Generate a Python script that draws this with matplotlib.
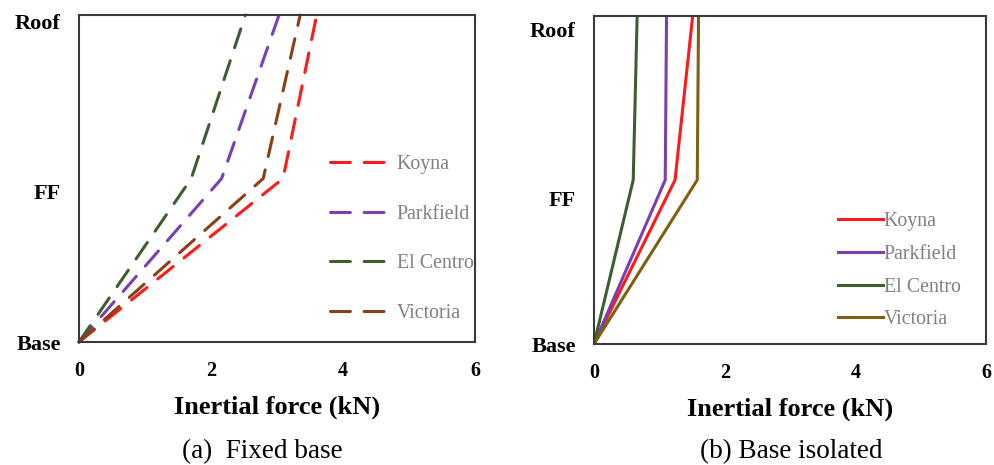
import matplotlib
matplotlib.use("Agg")
import matplotlib.pyplot as plt

# storey levels: Base, First floor, Roof
levels = [0, 1, 2]
level_labels = ["Base", "FF", "Roof"]
records = ["Koyna", "Parkfield", "El Centro", "Victoria"]

# inertial force (kN) at Base / FF / Roof
fixed_force = {
    "Koyna": [0, 3.09, 3.60],
    "Parkfield": [0, 2.16, 3.03],
    "El Centro": [0, 1.70, 2.52],
    "Victoria": [0, 2.79, 3.35],
}
isolated_force = {
    "Koyna": [0, 1.24, 1.51],
    "Parkfield": [0, 1.09, 1.11],
    "El Centro": [0, 0.60, 0.66],
    "Victoria": [0, 1.58, 1.60],
}

fixed_colors = ["#ff1a1a", "#7a3fb0", "#3d5e2e", "#8b3f14"]
isolated_colors = ["#ff1a1a", "#7a3fb0", "#3d5e2e", "#7f6010"]

plt.rcParams["font.family"] = ["Liberation Serif", "DejaVu Serif"]

fig = plt.figure(figsize=(9.94, 4.65), dpi=100)
ax1 = fig.add_axes([0.0795, 0.2645, 0.3985, 0.7032])
ax2 = fig.add_axes([0.5976, 0.2602, 0.3944, 0.7054])


def style_axes(ax, ytick_pos):
    ax.set_xlim(0, 6)
    ax.set_ylim(0, 2.0)
    ax.set_xticks([0, 2, 4, 6])
    ax.set_yticks(ytick_pos)
    ax.set_yticklabels(level_labels)
    ax.tick_params(axis="x", length=0, labelsize=14.5, pad=14)
    ax.tick_params(axis="y", length=0, labelsize=16, pad=13)
    for lab in ax.get_xticklabels() + ax.get_yticklabels():
        lab.set_fontweight("bold")
    for sp in ax.spines.values():
        sp.set_color("#3a3a3a")
        sp.set_linewidth(1.5)
    ax.set_xlabel("Inertial force (kN)", fontsize=19, fontweight="bold", labelpad=10)


for name, c in zip(records, fixed_colors):
    ax1.plot(fixed_force[name], levels, color=c, lw=2.2, label=name,
             dashes=(6.5, 4.5), solid_capstyle="round", dash_capstyle="round", clip_on=False)
style_axes(ax1, [0, 0.92, 1.96])
leg1 = ax1.legend(loc="upper left", bbox_to_anchor=(0.614, 0.595), frameon=False,
                  fontsize=14.3, handlelength=3.25, handletextpad=0.1, labelspacing=1.53,
                  borderaxespad=0)
for t in leg1.get_texts():
    t.set_color("#808080")

for name, c in zip(records, isolated_colors):
    ax2.plot(isolated_force[name], levels, color=c, lw=2.2, label=name)
style_axes(ax2, [0, 0.89, 1.92])
leg2 = ax2.legend(loc="upper left", bbox_to_anchor=(0.602, 0.426), frameon=False,
                  fontsize=14.3, handlelength=2.26, handletextpad=0.05, labelspacing=0.69,
                  borderaxespad=0)
for t in leg2.get_texts():
    t.set_color("#808080")

fig.text(262 / 994, 1 - 452 / 465, "(a)  Fixed base", ha="center", va="center", fontsize=19.5)
fig.text(791 / 994, 1 - 452 / 465, "(b) Base isolated", ha="center", va="center", fontsize=19.5)

fig.savefig("out.png", dpi=100)
